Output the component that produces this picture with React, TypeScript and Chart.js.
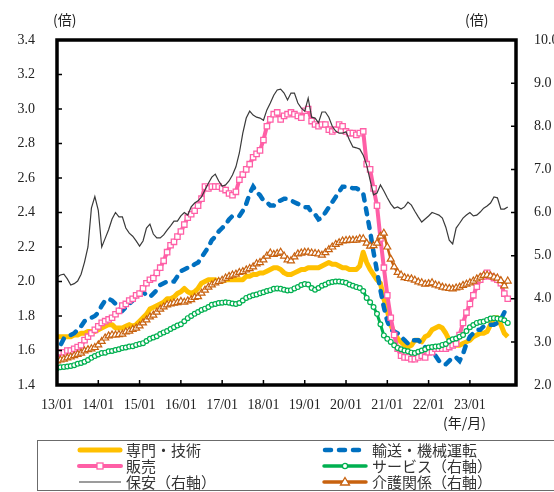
import React, { useEffect, useRef } from 'react';
import { Chart, registerables } from 'chart.js';

Chart.register(...registerables);

// Month index 0 = 2013/01 ... 131 = 2023/12
const xTickMonths = [0, 12, 24, 36, 48, 60, 72, 84, 96, 108, 120];
const xTickLabels = ['13/01', '14/01', '15/01', '16/01', '17/01', '18/01', '19/01', '20/01', '21/01', '22/01', '23/01'];

// 専門・技術 (left axis)
const senmon = [
  1.68, 1.68, 1.68, 1.68, 1.68, 1.69, 1.69, 1.70, 1.70, 1.71, 1.71, 1.71,
  1.72, 1.73, 1.74, 1.75, 1.75, 1.73, 1.73, 1.73, 1.74, 1.75, 1.74, 1.75,
  1.77, 1.79, 1.81, 1.84, 1.85, 1.86, 1.87, 1.88, 1.90, 1.90, 1.91, 1.93,
  1.94, 1.96, 1.94, 1.93, 1.94, 1.96, 1.99, 2.00, 2.01, 2.01, 2.01, 2.00,
  2.00, 2.01, 2.01, 2.01, 2.01, 2.01, 2.01, 2.03, 2.03, 2.04, 2.04, 2.05,
  2.05, 2.06, 2.07, 2.08, 2.08, 2.07, 2.05, 2.04, 2.04, 2.05, 2.06, 2.07,
  2.07, 2.08, 2.08, 2.08, 2.08, 2.09, 2.10, 2.11, 2.10, 2.10, 2.09, 2.08,
  2.08, 2.07, 2.07, 2.07, 2.09, 2.17, 2.11, 2.07, 2.04, 2.01, 1.99, 1.90,
  1.83, 1.75, 1.70, 1.67, 1.65, 1.63, 1.62, 1.63, 1.66, 1.66, 1.65, 1.68,
  1.69, 1.72, 1.73, 1.74, 1.73, 1.70, 1.66, 1.63, 1.63, 1.63, 1.64, 1.65,
  1.66, 1.68, 1.69, 1.70, 1.70, 1.71, 1.75, 1.79, 1.79, 1.75, 1.70, 1.68,
];

// 輸送・機械運転 (left axis)
const yuso = [
  1.56, 1.63, 1.67, 1.68, 1.69, 1.70, 1.72, 1.74, 1.77, 1.78, 1.79, 1.80,
  1.82, 1.86, 1.89, 1.90, 1.89, 1.87, 1.84, 1.83, 1.85, 1.87, 1.89, 1.92,
  1.93, 1.94, 1.92, 1.91, 1.93, 1.95, 1.98, 1.99, 2.00, 2.00, 2.00, 2.03,
  2.06, 2.07, 2.08, 2.08, 2.10, 2.11, 2.14, 2.17, 2.20, 2.24, 2.26, 2.29,
  2.31, 2.33, 2.36, 2.38, 2.38, 2.38, 2.41, 2.45, 2.51, 2.55, 2.52, 2.50,
  2.47, 2.46, 2.44, 2.44, 2.46, 2.47, 2.48, 2.48, 2.47, 2.46, 2.45, 2.44,
  2.43, 2.43, 2.40, 2.39, 2.36, 2.37, 2.40, 2.43, 2.46, 2.49, 2.52, 2.55,
  2.55, 2.55, 2.54, 2.54, 2.53, 2.51, 2.40, 2.29, 2.17, 2.06, 1.95, 1.85,
  1.77, 1.72, 1.71, 1.70, 1.68, 1.66, 1.64, 1.66, 1.66, 1.66, 1.64, 1.62,
  1.61, 1.59, 1.57, 1.54, 1.52, 1.52, 1.54, 1.56, 1.56, 1.54, 1.58, 1.64,
  1.68, 1.70, 1.72, 1.72, 1.74, 1.74, 1.75, 1.75, 1.76, 1.78, 1.82, 1.86,
];

// 販売 (left axis)
const hanbai = [
  1.55, 1.59, 1.59, 1.60, 1.60, 1.61, 1.62, 1.63, 1.66, 1.68, 1.70, 1.72,
  1.74, 1.76, 1.77, 1.78, 1.79, 1.81, 1.83, 1.86, 1.87, 1.89, 1.90, 1.92,
  1.93, 1.96, 1.99, 2.01, 2.02, 2.05, 2.08, 2.12, 2.17, 2.21, 2.23, 2.26,
  2.29, 2.33, 2.37, 2.39, 2.41, 2.44, 2.48, 2.55, 2.54, 2.55, 2.55, 2.55,
  2.54, 2.53, 2.51, 2.50, 2.52, 2.59, 2.62, 2.65, 2.68, 2.72, 2.74, 2.76,
  2.82, 2.90, 2.94, 2.97, 2.98, 2.94, 2.96, 2.97, 2.98, 2.97, 2.96, 2.95,
  2.99, 3.00, 2.93, 2.91, 2.90, 2.91, 2.91, 2.88, 2.87, 2.88, 2.91, 2.90,
  2.87, 2.86, 2.86, 2.85, 2.86, 2.87, 2.68, 2.65, 2.54, 2.44, 2.25, 2.08,
  1.92, 1.79, 1.69, 1.61, 1.57, 1.56, 1.56, 1.55, 1.55, 1.56, 1.57, 1.56,
  1.59, 1.59, 1.61, 1.61, 1.61, 1.61, 1.62, 1.63, 1.64, 1.69, 1.76, 1.82,
  1.87, 1.92, 1.97, 2.01, 2.03, 2.05, 2.03, 2.02, 2.01, 1.99, 1.93, 1.90,
];

// サービス (right axis)
const service = [
  2.39, 2.41, 2.42, 2.43, 2.44, 2.46, 2.49, 2.51, 2.54, 2.58, 2.63, 2.67,
  2.71, 2.74, 2.75, 2.78, 2.79, 2.81, 2.83, 2.86, 2.87, 2.89, 2.90, 2.93,
  2.95, 2.97, 3.02, 3.07, 3.10, 3.13, 3.18, 3.22, 3.25, 3.30, 3.34, 3.38,
  3.41, 3.48, 3.55, 3.60, 3.65, 3.69, 3.74, 3.77, 3.81, 3.86, 3.88, 3.90,
  3.91, 3.92, 3.91, 3.89, 3.88, 3.90, 3.96, 4.02, 4.05, 4.08, 4.10, 4.13,
  4.15, 4.18, 4.20, 4.23, 4.24, 4.23, 4.21, 4.19, 4.20, 4.24, 4.27, 4.32,
  4.34, 4.33, 4.25, 4.21, 4.25, 4.30, 4.33, 4.37, 4.39, 4.40, 4.40, 4.39,
  4.37, 4.33, 4.30, 4.27, 4.25, 4.18, 4.02, 3.92, 3.81, 3.65, 3.41, 3.15,
  3.07, 3.00, 2.92, 2.86, 2.83, 2.80, 2.78, 2.75, 2.74, 2.77, 2.80, 2.83,
  2.87, 2.88, 2.89, 2.90, 2.93, 2.95, 3.02, 3.06, 3.08, 3.12, 3.16, 3.25,
  3.34, 3.39, 3.44, 3.46, 3.47, 3.51, 3.54, 3.55, 3.54, 3.53, 3.50, 3.44,
];

// 保安 (right axis)
const hoan = [
  4.50, 4.55, 4.57, 4.46, 4.32, 4.35, 4.41, 4.57, 4.85, 5.20, 6.10, 6.37,
  6.05, 5.20, 5.40, 5.60, 5.85, 6.00, 5.90, 5.90, 5.64, 5.52, 5.45, 5.34,
  5.22, 5.34, 5.64, 5.73, 5.50, 5.41, 5.41, 5.48, 5.59, 5.69, 5.80, 5.80,
  5.92, 6.00, 5.94, 6.13, 6.22, 6.27, 6.36, 6.52, 6.68, 6.82, 6.89, 6.73,
  6.61, 6.64, 6.73, 6.87, 7.06, 7.38, 7.84, 8.19, 8.35, 8.26, 8.21, 8.19,
  8.14, 8.38, 8.54, 8.72, 8.84, 8.86, 8.77, 8.61, 8.77, 8.77, 8.54, 8.42,
  8.35, 8.65, 8.21, 8.19, 8.08, 8.33, 8.33, 8.21, 8.00, 7.89, 7.84, 7.84,
  7.87, 7.68, 7.52, 7.50, 7.47, 7.33, 7.10, 6.75, 6.41, 6.45, 6.64, 6.50,
  6.34, 6.20, 6.10, 6.13, 6.08, 6.13, 6.24, 6.17, 6.03, 5.90, 5.78, 5.85,
  5.92, 6.00, 5.97, 5.94, 5.87, 5.66, 5.36, 5.27, 5.64, 5.75, 5.87, 5.94,
  6.00, 5.92, 5.94, 6.01, 6.10, 6.15, 6.22, 6.36, 6.34, 6.08, 6.08, 6.13,
];

// 介護関係 (right axis)
const kaigo = [
  2.56, 2.58, 2.60, 2.63, 2.65, 2.68, 2.71, 2.74, 2.79, 2.82, 2.84, 2.87,
  2.93, 3.01, 3.09, 3.14, 3.16, 3.16, 3.17, 3.18, 3.23, 3.25, 3.29, 3.32,
  3.37, 3.44, 3.51, 3.58, 3.62, 3.69, 3.76, 3.81, 3.86, 3.88, 3.90, 3.91,
  3.94, 3.92, 3.95, 3.98, 4.03, 4.05, 4.13, 4.20, 4.27, 4.32, 4.37, 4.40,
  4.43, 4.48, 4.52, 4.55, 4.57, 4.61, 4.63, 4.67, 4.70, 4.74, 4.81, 4.84,
  4.90, 4.99, 5.06, 5.03, 5.05, 5.08, 4.99, 4.90, 4.88, 4.97, 5.04, 5.06,
  5.08, 5.08, 5.06, 5.05, 5.04, 5.01, 5.07, 5.14, 5.20, 5.26, 5.30, 5.34,
  5.35, 5.36, 5.36, 5.36, 5.39, 5.39, 5.29, 5.22, 5.23, 5.29, 5.45, 5.52,
  5.20, 4.92, 4.74, 4.61, 4.55, 4.49, 4.47, 4.46, 4.43, 4.39, 4.37, 4.34,
  4.35, 4.37, 4.32, 4.30, 4.27, 4.25, 4.24, 4.23, 4.25, 4.27, 4.31, 4.34,
  4.37, 4.41, 4.46, 4.50, 4.54, 4.55, 4.53, 4.50, 4.48, 4.42, 4.30, 4.41,
];

const C_YELLOW = '#FFC000';
const C_BLUE = '#0070C0';
const C_PINK = '#FF5FA6';
const C_GREEN = '#00B050';
const C_BLACK = '#3A3A3A';
const C_ORANGE = '#C8620F';

const tickFont = { family: "'Liberation Serif', 'DejaVu Serif', serif", size: 14 };
const jpFont = "'Noto Sans CJK JP', sans-serif";

const framePlugin = {
  id: 'frame',
  afterDraw(chart: any) {
    const { ctx, chartArea: a, scales } = chart;
    ctx.save();
    ctx.strokeStyle = '#000';
    ctx.lineWidth = 1.5;
    ctx.beginPath();
    scales.y.ticks.forEach((t: any) => {
      const py = scales.y.getPixelForValue(t.value);
      if (py > a.top + 3 && py < a.bottom - 3) {
        ctx.moveTo(a.left, py);
        ctx.lineTo(a.left + 5, py);
      }
    });
    scales.y2.ticks.forEach((t: any) => {
      const py = scales.y2.getPixelForValue(t.value);
      if (py > a.top + 3 && py < a.bottom - 3) {
        ctx.moveTo(a.right, py);
        ctx.lineTo(a.right - 5, py);
      }
    });
    scales.x.ticks.forEach((t: any) => {
      const px = scales.x.getPixelForValue(t.value);
      if (px > a.left + 3 && px < a.right - 3) {
        ctx.moveTo(px, a.bottom);
        ctx.lineTo(px, a.bottom - 5);
      }
    });
    ctx.stroke();
    ctx.lineWidth = 3.5;
    ctx.strokeRect(a.left, a.top, a.right - a.left, a.bottom - a.top);
    ctx.restore();
  },
};

const pts = (arr: number[]) => arr.map((v, i) => ({ x: i, y: v }));

function Swatch({ kind }: { kind: string }) {
  const w = 46;
  const h = 12;
  const mid = h / 2;
  if (kind === 'yellow') {
    return (
      <svg width={w} height={h}>
        <line x1={3} y1={mid} x2={w - 3} y2={mid} stroke={C_YELLOW} strokeWidth={5} strokeLinecap="round" />
      </svg>
    );
  }
  if (kind === 'blue') {
    return (
      <svg width={w} height={h}>
        <line x1={3} y1={mid} x2={w - 3} y2={mid} stroke={C_BLUE} strokeWidth={4.5} strokeLinecap="round" strokeDasharray="6 8" />
      </svg>
    );
  }
  if (kind === 'pink') {
    return (
      <svg width={w} height={h}>
        <line x1={2} y1={mid} x2={w - 2} y2={mid} stroke={C_PINK} strokeWidth={4} strokeLinecap="round" />
        <rect x={w / 2 - 3} y={mid - 3} width={6} height={6} fill="#fff" stroke={C_PINK} strokeWidth={1.3} />
      </svg>
    );
  }
  if (kind === 'green') {
    return (
      <svg width={w} height={h}>
        <line x1={2} y1={mid} x2={w - 2} y2={mid} stroke={C_GREEN} strokeWidth={3.5} strokeLinecap="round" />
        <circle cx={w / 2} cy={mid} r={2.6} fill="#fff" stroke={C_GREEN} strokeWidth={1.3} />
      </svg>
    );
  }
  if (kind === 'black') {
    return (
      <svg width={w} height={h}>
        <line x1={2} y1={mid} x2={w - 2} y2={mid} stroke={C_BLACK} strokeWidth={1.2} />
      </svg>
    );
  }
  return (
    <svg width={w} height={h}>
      <line x1={2} y1={mid} x2={w - 2} y2={mid} stroke={C_ORANGE} strokeWidth={3.5} strokeLinecap="round" />
      <polygon points={`${w / 2},${mid - 4.5} ${w / 2 + 4.5},${mid + 3} ${w / 2 - 4.5},${mid + 3}`} fill="#fff" stroke={C_ORANGE} strokeWidth={1.3} />
    </svg>
  );
}

const legendItems = [
  { label: '専門・技術', kind: 'yellow', col: 0, row: 0 },
  { label: '輸送・機械運転', kind: 'blue', col: 1, row: 0 },
  { label: '販売', kind: 'pink', col: 0, row: 1 },
  { label: 'サービス（右軸）', kind: 'green', col: 1, row: 1 },
  { label: '保安（右軸）', kind: 'black', col: 0, row: 2 },
  { label: '介護関係（右軸）', kind: 'orange', col: 1, row: 2 },
];

export default function App() {
  const ref = useRef<HTMLCanvasElement>(null);

  useEffect(() => {
    document.body.style.margin = '0';
    const canvas = ref.current!;
    const chart = new Chart(canvas, {
      type: 'line',
      data: {
        datasets: [
          {
            label: '保安（右軸）',
            data: pts(hoan),
            yAxisID: 'y2',
            borderColor: C_BLACK,
            borderWidth: 1.2,
            pointRadius: 0,
            order: 0,
          },
          {
            label: '介護関係（右軸）',
            data: pts(kaigo),
            yAxisID: 'y2',
            borderColor: C_ORANGE,
            borderWidth: 2.5,
            pointStyle: 'triangle',
            pointRadius: 4,
            pointBorderWidth: 1.2,
            pointBackgroundColor: '#fff',
            pointBorderColor: C_ORANGE,
            order: 1,
          },
          {
            label: 'サービス（右軸）',
            data: pts(service),
            yAxisID: 'y2',
            borderColor: C_GREEN,
            borderWidth: 3,
            pointStyle: 'circle',
            pointRadius: 2.4,
            pointBorderWidth: 1.2,
            pointBackgroundColor: '#fff',
            pointBorderColor: C_GREEN,
            order: 2,
          },
          {
            label: '販売',
            data: pts(hanbai),
            yAxisID: 'y',
            borderColor: C_PINK,
            borderWidth: 4,
            pointStyle: 'rect',
            pointRadius: 3.8,
            pointBorderWidth: 1.3,
            pointBackgroundColor: '#fff',
            pointBorderColor: C_PINK,
            order: 3,
          },
          {
            label: '輸送・機械運転',
            data: pts(yuso),
            yAxisID: 'y',
            borderColor: C_BLUE,
            borderWidth: 4.5,
            borderDash: [6, 8],
            borderCapStyle: 'round',
            pointRadius: 0,
            order: 4,
          },
          {
            label: '専門・技術',
            data: pts(senmon),
            yAxisID: 'y',
            borderColor: C_YELLOW,
            borderWidth: 5,
            borderJoinStyle: 'round',
            pointRadius: 0,
            order: 5,
          },
        ],
      },
      options: {
        responsive: false,
        animation: false,
        devicePixelRatio: 1,
        layout: { padding: { top: 40, left: 0, right: 0, bottom: 0 } },
        plugins: { legend: { display: false }, tooltip: { enabled: false } },
        elements: { line: { tension: 0, fill: false } },
        scales: {
          x: {
            type: 'linear',
            min: 0,
            max: 133.4,
            grid: { display: false, drawTicks: false, tickLength: 0 },
            border: { display: false },
            afterBuildTicks: (s: any) => {
              s.ticks = xTickMonths.map((v) => ({ value: v }));
            },
            afterFit: (s: any) => {
              s.height = 55;
            },
            ticks: {
              autoSkip: false,
              maxRotation: 0,
              minRotation: 0,
              padding: 12,
              color: '#222',
              font: tickFont,
              callback: (_v: any, i: number) => xTickLabels[i],
            },
          },
          y: {
            type: 'linear',
            position: 'left',
            min: 1.4,
            max: 3.4,
            grid: { display: false, drawTicks: false, tickLength: 0 },
            border: { display: false },
            afterFit: (s: any) => {
              s.width = 57;
            },
            ticks: {
              stepSize: 0.2,
              padding: 22,
              color: '#222',
              font: tickFont,
              callback: (v: any) => Number(v).toFixed(1),
            },
          },
          y2: {
            type: 'linear',
            position: 'right',
            min: 2,
            max: 10,
            grid: { display: false, drawTicks: false, tickLength: 0 },
            border: { display: false },
            afterFit: (s: any) => {
              s.width = 64;
            },
            ticks: {
              stepSize: 1,
              padding: 18,
              color: '#222',
              font: tickFont,
              callback: (v: any) => Number(v).toFixed(1),
            },
          },
        },
      } as any,
      plugins: [framePlugin],
    });
    return () => chart.destroy();
  }, []);

  const rowY = [450, 466, 482];
  const colSwatchX = [77, 322];
  const colTextX = [126, 372];

  return (
    <div style={{ position: 'relative', width: 554, height: 492, overflow: 'hidden', background: '#fff' }}>
      <canvas ref={ref} width={580} height={440} style={{ position: 'absolute', left: 0, top: 0, width: 580, height: 440 }} />
      <div style={{ position: 'absolute', left: 53, top: 11, font: `14px ${jpFont}`, color: '#222', lineHeight: '16px' }}>(倍)</div>
      <div style={{ position: 'absolute', left: 465, top: 11, font: `14px ${jpFont}`, color: '#222', lineHeight: '16px' }}>(倍)</div>
      <div style={{ position: 'absolute', left: 443, top: 414, font: `14px ${jpFont}`, color: '#222', lineHeight: '16px' }}>(年/月)</div>
      <div
        style={{
          position: 'absolute',
          left: 37,
          top: 440,
          width: 560,
          height: 51,
          border: '1.5px solid #6b6b6b',
          boxSizing: 'border-box',
        }}
      />
      {legendItems.map((it) => (
        <React.Fragment key={it.label}>
          <div style={{ position: 'absolute', left: colSwatchX[it.col], top: rowY[it.row] - 6, width: 46, height: 12, lineHeight: 0 }}>
            <Swatch kind={it.kind} />
          </div>
          <div
            style={{
              position: 'absolute',
              left: colTextX[it.col],
              top: rowY[it.row] - 9,
              font: `15px ${jpFont}`,
              lineHeight: '18px',
              color: '#333',
              whiteSpace: 'nowrap',
            }}
          >
            {it.label}
          </div>
        </React.Fragment>
      ))}
    </div>
  );
}
